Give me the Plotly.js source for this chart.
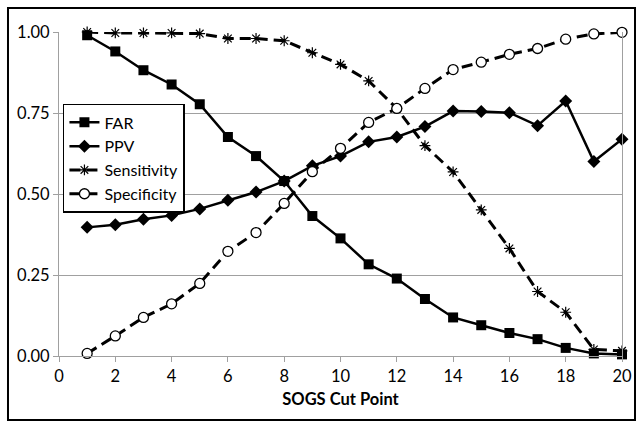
<!DOCTYPE html>
<html>
<head>
<meta charset="utf-8">
<script src="https://cdn.plot.ly/plotly-3.0.1.min.js"></script>
<style>html,body{margin:0;padding:0;background:#fff;}#chart{width:643px;height:428px;}</style>
</head>
<body>
<div id="chart"></div>
<script>
const cutPoints = [1,2,3,4,5,6,7,8,9,10,11,12,13,14,15,16,17,18,19,20];
const far = [0.99,0.94,0.882,0.838,0.777,0.676,0.617,0.54,0.432,0.363,0.283,0.239,0.176,0.119,0.095,0.071,0.052,0.025,0.008,0.005];
const ppv = [0.397,0.405,0.422,0.434,0.454,0.481,0.506,0.54,0.587,0.617,0.661,0.676,0.708,0.756,0.755,0.751,0.711,0.787,0.60,0.669];
const sensitivity = [1.0,0.997,0.997,0.997,0.995,0.98,0.98,0.973,0.936,0.90,0.849,0.764,0.649,0.568,0.451,0.332,0.199,0.135,0.02,0.016];
const specificity = [0.008,0.062,0.119,0.161,0.224,0.323,0.381,0.471,0.569,0.641,0.721,0.764,0.826,0.884,0.907,0.931,0.949,0.978,0.994,0.999];
const xTicks = [0,2,4,6,8,10,12,14,16,18,20];
const yTicks = [0,0.25,0.5,0.75,1.0];
const yTickText = ['0.00','0.25','0.50','0.75','1.00'];

const FONT = 'Lato, "Open Sans", "Liberation Sans", sans-serif';

const traces = [
  {x: cutPoints, y: far, name: 'FAR', mode: 'lines+markers', cliponaxis: false,
   line: {color: '#000', width: 2.5},
   marker: {symbol: 'square', size: 10, color: '#000'}},
  {x: cutPoints, y: ppv, name: 'PPV', mode: 'lines+markers', cliponaxis: false,
   line: {color: '#000', width: 2.5},
   marker: {symbol: 'diamond', size: 10, color: '#000'}},
  {x: cutPoints, y: sensitivity, name: 'Sensitivity', mode: 'lines+markers', cliponaxis: false,
   line: {color: '#000', width: 3, dash: '11px,6px'},
   marker: {symbol: 'asterisk-open', size: 9, color: '#000', line: {color: '#000', width: 1.2}}},
  {x: cutPoints, y: specificity, name: 'Specificity', mode: 'lines+markers', cliponaxis: false,
   line: {color: '#000', width: 3, dash: '11px,6px'},
   marker: {symbol: 'circle', size: 10, color: '#fff', line: {color: '#000', width: 1.3}}}
];

const layout = {
  width: 643, height: 428,
  margin: {l: 59, r: 21, t: 32, b: 72},
  paper_bgcolor: '#fff', plot_bgcolor: '#fff',
  font: {family: FONT, size: 16, color: '#000'},
  showlegend: true,
  legend: {x: 0.007, y: 0.778, xanchor: 'left', yanchor: 'top',
           bgcolor: '#fff', bordercolor: '#000', borderwidth: 1.5,
           font: {family: FONT, size: 16, color: '#000'}, tracegroupgap: 0},
  xaxis: {range: [0, 20], tickvals: xTicks, ticktext: xTicks.map(String),
          showgrid: false, zeroline: false, showline: true, linecolor: '#a0a0a0', linewidth: 1,
          ticks: 'outside', ticklen: 5, tickcolor: '#a0a0a0',
          tickfont: {family: FONT, size: 16.5, color: '#000'},
          title: {text: '<b>SOGS Cut Point</b>', font: {family: FONT, size: 16.5, color: '#000'}, standoff: 8}},
  yaxis: {range: [0, 1.0], tickvals: yTicks, ticktext: yTickText,
          showgrid: true, gridcolor: '#a0a0a0', gridwidth: 1, zeroline: false,
          showline: true, mirror: true, linecolor: '#a0a0a0', linewidth: 1,
          ticks: 'outside', ticklen: 5, tickcolor: '#a0a0a0',
          tickfont: {family: FONT, size: 16.5, color: '#000'}},
  shapes: [{type: 'rect', xref: 'paper', yref: 'paper',
            x0: -0.0906, x1: 1.0231, y0: -0.1975, y1: 1.074,
            line: {color: '#000', width: 2}, fillcolor: 'rgba(0,0,0,0)', layer: 'below'}]
};

Plotly.newPlot('chart', traces, layout, {displayModeBar: false, staticPlot: true});
</script>
</body>
</html>
